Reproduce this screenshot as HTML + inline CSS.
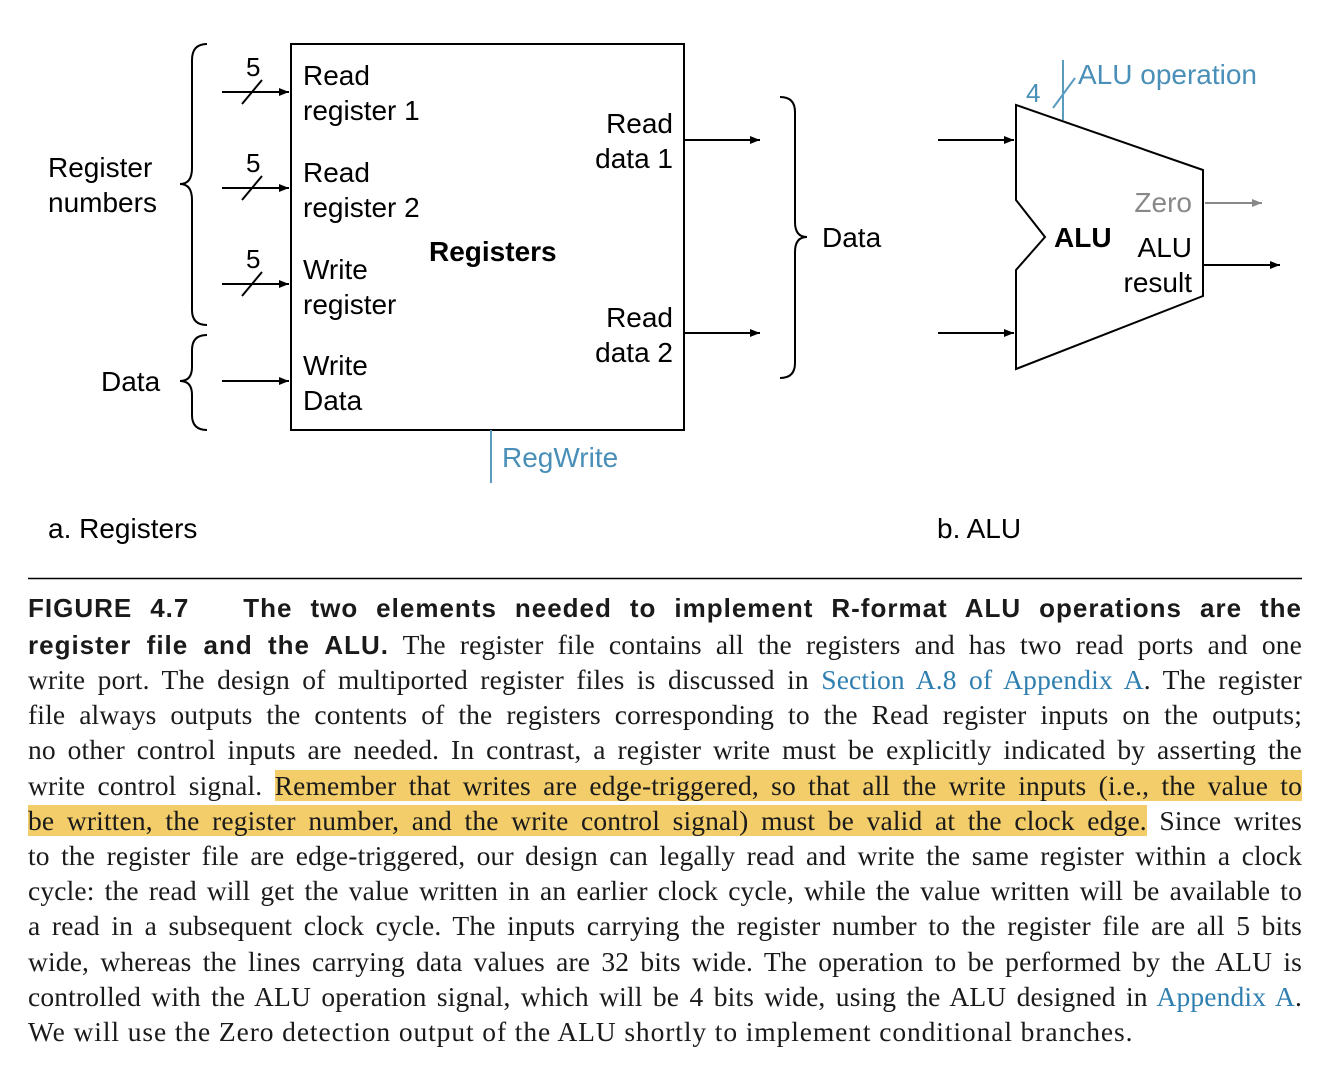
<!DOCTYPE html>
<html><head><meta charset="utf-8"><style>
body{margin:0;background:#fff;width:1342px;height:1082px;position:relative;overflow:hidden}
svg{position:absolute;left:0;top:0}
.cap{position:absolute;left:28px;width:1274px;font-family:"Liberation Serif",serif;font-size:27.5px;letter-spacing:0.15px;line-height:35px;color:#1a1a1a;text-align:justify;text-align-last:justify;white-space:nowrap}
.cap.last{text-align-last:left;letter-spacing:0.9px}
.hd{font-family:"Liberation Sans",sans-serif;font-weight:bold;font-size:26px;letter-spacing:1px}
.hl{background:#f3cd6a}
.lk{color:#2f7fb0}
</style></head><body>
<svg width="1342" height="580" font-family="Liberation Sans, sans-serif" font-size="28">
<defs><marker id="ah" markerWidth="10" markerHeight="8" refX="10" refY="4" orient="auto" markerUnits="userSpaceOnUse"><path d="M0,0 L10,4 L0,8 z" fill="#000"/></marker>
<marker id="ahg" markerWidth="10" markerHeight="8" refX="10" refY="4" orient="auto" markerUnits="userSpaceOnUse"><path d="M0,0 L10,4 L0,8 z" fill="#888"/></marker></defs>
<g>
<rect x="291" y="44" width="393" height="386" fill="none" stroke="#000" stroke-width="2"/>
<text x="429" y="261" font-weight="bold">Registers</text>
<text x="303" y="85">Read</text><text x="303" y="120">register 1</text>
<text x="303" y="182">Read</text><text x="303" y="217">register 2</text>
<text x="303" y="279">Write</text><text x="303" y="314">register</text>
<text x="303" y="375">Write</text><text x="303" y="410">Data</text>
<text x="673" y="133" text-anchor="end">Read</text><text x="673" y="168" text-anchor="end">data 1</text>
<text x="673" y="327" text-anchor="end">Read</text><text x="673" y="362" text-anchor="end">data 2</text>
</g>
<g stroke="#000" stroke-width="2" fill="none">
<line x1="222" y1="92" x2="289" y2="92" marker-end="url(#ah)"/>
<line x1="222" y1="188" x2="289" y2="188" marker-end="url(#ah)"/>
<line x1="222" y1="284" x2="289" y2="284" marker-end="url(#ah)"/>
<line x1="222" y1="381" x2="289" y2="381" marker-end="url(#ah)"/>
<line x1="242" y1="104" x2="262" y2="80"/><line x1="242" y1="200" x2="262" y2="176"/><line x1="242" y1="296" x2="262" y2="272"/>
<line x1="684" y1="140" x2="760" y2="140" marker-end="url(#ah)"/>
<line x1="684" y1="333" x2="760" y2="333" marker-end="url(#ah)"/>
<path d="M207,44 Q192,44 192,60 L192,168 Q192,184 180,184 Q192,184 192,200 L192,310 Q192,325 207,325"/>
<path d="M207,335 Q192,335 192,350 L192,367 Q192,381 180,381 Q192,381 192,395 L192,415 Q192,430 207,430"/>
<path d="M780,97 Q795,97 795,112 L795,222 Q795,237 807,237 Q795,237 795,252 L795,363 Q795,378 780,378"/>
</g>
<text x="246" y="76" font-size="26">5</text><text x="246" y="172" font-size="26">5</text><text x="246" y="268" font-size="26">5</text>
<text x="48" y="177">Register</text><text x="48" y="212">numbers</text>
<text x="101" y="391">Data</text>
<text x="822" y="247">Data</text>
<line x1="491" y1="430" x2="491" y2="483" stroke="#5a9bc0" stroke-width="2"/>
<text x="502" y="467" fill="#4a8fb8">RegWrite</text>
<g>
<polygon points="1016,105 1203,170 1203,296 1016,369 1016,270 1045,237 1016,200" fill="none" stroke="#000" stroke-width="2"/>
<text x="1054" y="247" font-weight="bold">ALU</text>
<text x="1192" y="212" fill="#888" text-anchor="end">Zero</text>
<text x="1192" y="257" text-anchor="end">ALU</text><text x="1192" y="292" text-anchor="end">result</text>
</g>
<g stroke="#000" stroke-width="2">
<line x1="938" y1="140" x2="1014" y2="140" marker-end="url(#ah)"/>
<line x1="938" y1="333" x2="1014" y2="333" marker-end="url(#ah)"/>
<line x1="1203" y1="265" x2="1280" y2="265" marker-end="url(#ah)"/>
</g>
<line x1="1205" y1="203" x2="1262" y2="203" stroke="#888" stroke-width="2" marker-end="url(#ahg)"/>
<line x1="1063" y1="60" x2="1063" y2="120" stroke="#5a9bc0" stroke-width="2"/>
<line x1="1053" y1="108" x2="1075" y2="78" stroke="#5a9bc0" stroke-width="2"/>
<text x="1026" y="102" fill="#4a8fb8" font-size="26">4</text>
<text x="1078" y="84" fill="#4a8fb8">ALU operation</text>
<text x="48" y="538">a. Registers</text>
<text x="937" y="538">b. ALU</text>
<line x1="28" y1="578.5" x2="1302" y2="578.5" stroke="#000" stroke-width="1.5"/>
</svg>
<div>
<div class="cap hd" style="top:591px">FIGURE 4.7&nbsp;&nbsp; The two elements needed to implement R-format ALU operations are the</div>
<div class="cap" style="top:627px"><span class="hd">register file and the ALU.</span> The register file contains all the registers and has two read ports and one</div>
<div class="cap" style="top:662px">write port. The design of multiported register files is discussed in <span class="lk">Section A.8 of Appendix A</span>. The register</div>
<div class="cap" style="top:697px">file always outputs the contents of the registers corresponding to the Read register inputs on the outputs;</div>
<div class="cap" style="top:732px">no other control inputs are needed. In contrast, a register write must be explicitly indicated by asserting the</div>
<div class="cap" style="top:768px">write control signal. <span class="hl">Remember that writes are edge-triggered, so that all the write inputs (i.e., the value to</span></div>
<div class="cap" style="top:803px"><span class="hl">be written, the register number, and the write control signal) must be valid at the clock edge.</span> Since writes</div>
<div class="cap" style="top:838px">to the register file are edge-triggered, our design can legally read and write the same register within a clock</div>
<div class="cap" style="top:873px">cycle: the read will get the value written in an earlier clock cycle, while the value written will be available to</div>
<div class="cap" style="top:908px">a read in a subsequent clock cycle. The inputs carrying the register number to the register file are all 5 bits</div>
<div class="cap" style="top:944px">wide, whereas the lines carrying data values are 32 bits wide. The operation to be performed by the ALU is</div>
<div class="cap" style="top:979px">controlled with the ALU operation signal, which will be 4 bits wide, using the ALU designed in <span class="lk">Appendix A</span>.</div>
<div class="cap last" style="top:1014px">We will use the Zero detection output of the ALU shortly to implement conditional branches.</div>
</div>
</body></html>
